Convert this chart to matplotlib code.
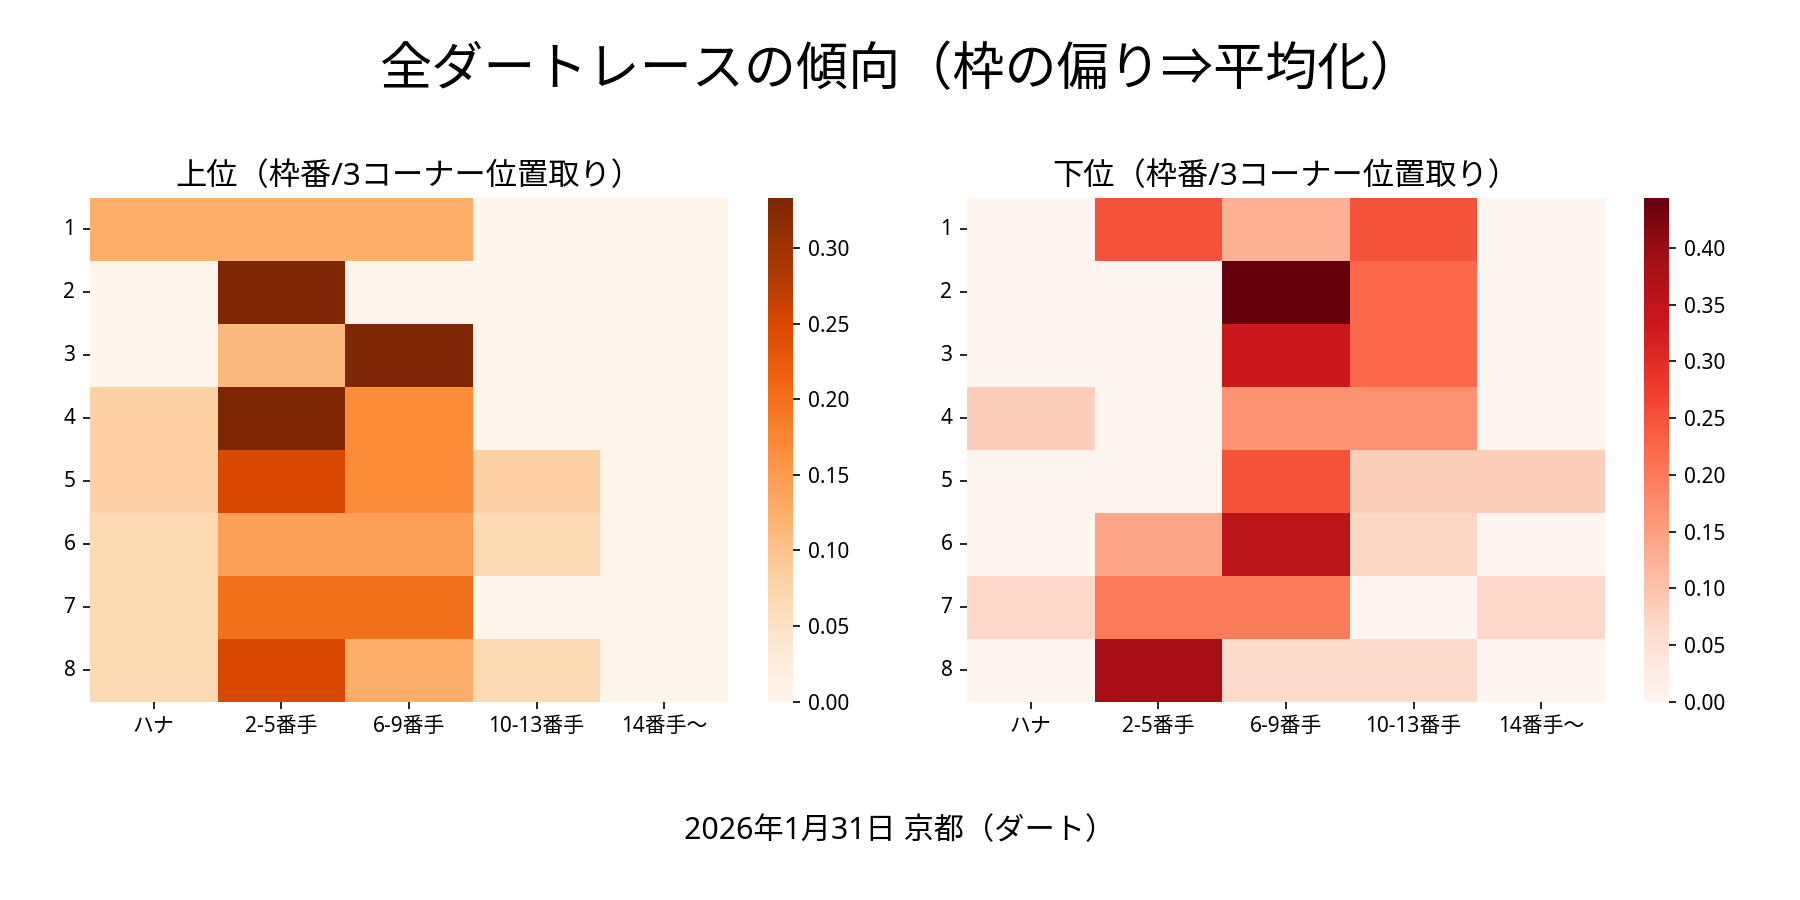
import numpy as np
import matplotlib
matplotlib.use("Agg")
import matplotlib.pyplot as plt
import seaborn as sns

plt.rcParams['font.family'] = ['Noto Sans', 'Noto Sans CJK JP', 'DejaVu Sans']

# 枠番 (行) と 3コーナー位置取り (列)
waku = ["1", "2", "3", "4", "5", "6", "7", "8"]
positions = ["ハナ", "2-5番手", "6-9番手", "10-13番手", "14番手〜"]

# 上位
top_rate = [
    [0.125, 0.125, 0.125, 0.0, 0.0],
    [0.0, 0.333, 0.0, 0.0, 0.0],
    [0.0, 0.111, 0.333, 0.0, 0.0],
    [0.083, 0.333, 0.167, 0.0, 0.0],
    [0.083, 0.25, 0.167, 0.083, 0.0],
    [0.067, 0.143, 0.143, 0.067, 0.0],
    [0.067, 0.2, 0.2, 0.0, 0.0],
    [0.067, 0.25, 0.125, 0.067, 0.0],
]

# 下位
bottom_rate = [
    [0.0, 0.25, 0.125, 0.25, 0.0],
    [0.0, 0.0, 0.444, 0.222, 0.0],
    [0.0, 0.0, 0.333, 0.222, 0.0],
    [0.083, 0.0, 0.167, 0.167, 0.0],
    [0.0, 0.0, 0.25, 0.083, 0.083],
    [0.0, 0.143, 0.357, 0.071, 0.0],
    [0.067, 0.2, 0.2, 0.0, 0.067],
    [0.0, 0.385, 0.0625, 0.0625, 0.0],
]

fig = plt.figure(figsize=(12, 6), dpi=150)

ax1 = fig.add_axes([0.0500, 0.2203, 0.3544, 0.5597])
cax1 = fig.add_axes([0.4267, 0.2203, 0.0139, 0.5597])
ax2 = fig.add_axes([0.5372, 0.2203, 0.3544, 0.5597])
cax2 = fig.add_axes([0.9133, 0.2203, 0.0139, 0.5597])

sns.heatmap(np.array(top_rate), ax=ax1, cbar_ax=cax1, cmap="Oranges",
            xticklabels=positions, yticklabels=waku)
sns.heatmap(np.array(bottom_rate), ax=ax2, cbar_ax=cax2, cmap="Reds",
            xticklabels=positions, yticklabels=waku)

ax1.set_title("上位（枠番/3コーナー位置取り）", fontsize=15)
ax2.set_title("下位（枠番/3コーナー位置取り）", fontsize=15)

for ax in (ax1, ax2):
    ax.tick_params(axis='y', rotation=0, labelsize=10)
    ax.tick_params(axis='x', rotation=0, labelsize=10)
for cax in (cax1, cax2):
    cax.tick_params(labelsize=10)

fig.suptitle("全ダートレースの傾向（枠の偏り⇒平均化）", fontsize=25, y=0.92, va='center')
fig.text(0.5, 0.077, "2026年1月31日 京都（ダート）", ha='center', va='center', fontsize=14.5)

fig.savefig("out.png", dpi=150)
